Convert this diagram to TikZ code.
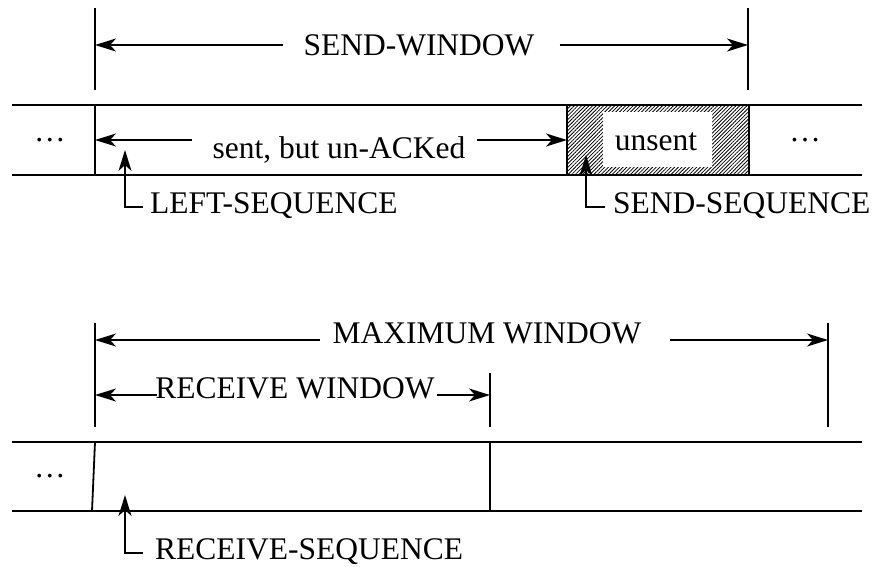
\documentclass[tikz,border=0pt]{standalone}
\usepackage{fontspec}
\setmainfont{Liberation Serif}
\usetikzlibrary{arrows.meta,patterns.meta}
\begin{document}
\begin{tikzpicture}[x=1pt,y=-1pt,
  lbl/.style={font=\fontsize{31.5}{36}\selectfont, inner sep=0pt},
  ln/.style={line width=1.8pt},
  arr/.style={line width=1.8pt,-{Stealth[length=21pt,width=13pt,inset=6pt]}},
  corner/.style={line width=1.8pt,-{Stealth[length=21pt,width=13pt,inset=6pt]}}]
\useasboundingbox (0,0) rectangle (875,566);
% ---------------- top part ----------------
\coordinate (lt) at (95,8);  \coordinate (lb) at (95,90);
\coordinate (rt) at (748,8); \coordinate (rb) at (748,90);
\draw[ln] (lt) -- (lb);
\draw[ln] (rt) -- (rb);
\node[lbl] (sw) at (419,45) {SEND-WINDOW};
\draw[arr] ([xshift=-20pt]sw.west) -- (lt |- sw);
\draw[arr] ([xshift=25pt]sw.east) -- (rt |- sw);
% box
\coordinate (hA) at (567,105); \coordinate (hB) at (749,175);
\path[pattern={Lines[angle=45,distance=2.6pt,line width=0.8pt]}] (hA) rectangle (hB);
\fill[white] (603,112) rectangle (712,167);
\draw[ln] (12,105) -- (862,105);
\draw[ln] (12,175) -- (862,175);
\draw[ln] (95,105) -- (95,175);
\draw[ln] (hA) -- (hA |- hB);
\draw[ln] (hB |- hA) -- (hB);
\node[lbl] (d1) at (50,140) {\dots};
\node[lbl] (d2) at (805,140) {\dots};
\node[lbl,anchor=base] (un) at (656,150) {unsent};
\node[lbl,anchor=base] (sb) at (339,158) {sent, but un-ACKed};
\coordinate (sl) at (95,140);
\draw[arr] (192,140) -- (sl);
\draw[arr] (477,140) -- (hA |- sl);
% sequence labels
\node[lbl,anchor=base west] (ls) at (150,213) {LEFT-SEQUENCE};
\coordinate (lstip) at (125,150);
\draw[corner] ([xshift=-7pt,yshift=6pt]ls.base west) -- (lstip |- 0,207) -- (lstip);
\node[lbl,anchor=base west] (ss) at (613,213) {SEND-SEQUENCE};
\coordinate (sstip) at (586,155);
\draw[corner] ([xshift=-8pt,yshift=6pt]ss.base west) -- (sstip |- 0,207) -- (sstip);
% ---------------- bottom part ----------------
\coordinate (blt) at (95,323);  \coordinate (blb) at (95,427);
\coordinate (brt) at (828,323); \coordinate (brb) at (828,427);
\coordinate (bmt) at (490,373); \coordinate (bmb) at (490,427);
\draw[ln] (blt) -- (blb);
\draw[ln] (brt) -- (brb);
\draw[ln] (bmt) -- (bmb);
\node[lbl,anchor=base] (mw) at (487,343) {MAXIMUM WINDOW};
\draw[arr] (320,340) -- (blt |- 0,340);
\draw[arr] (670,340) -- (brt |- 0,340);
\node[lbl,anchor=base] (rw) at (295,398) {RECEIVE WINDOW};
\draw[arr] (157,395) -- (blt |- 0,395);
\draw[arr] (437,395) -- (bmt |- 0,395);
% box
\draw[ln] (12,442) -- (862,442);
\draw[ln] (12,511) -- (862,511);
\draw[ln] (95,442) -- (92,511);
\draw[ln] (490,442) -- (490,511);
\node[lbl] (d3) at (50,476) {\dots};
\node[lbl,anchor=base west] (rs) at (155,559) {RECEIVE-SEQUENCE};
\coordinate (rstip) at (125,495);
\draw[corner] ([xshift=-12pt,yshift=6pt]rs.base west) -- (rstip |- 0,553) -- (rstip);
\end{tikzpicture}
\end{document}
